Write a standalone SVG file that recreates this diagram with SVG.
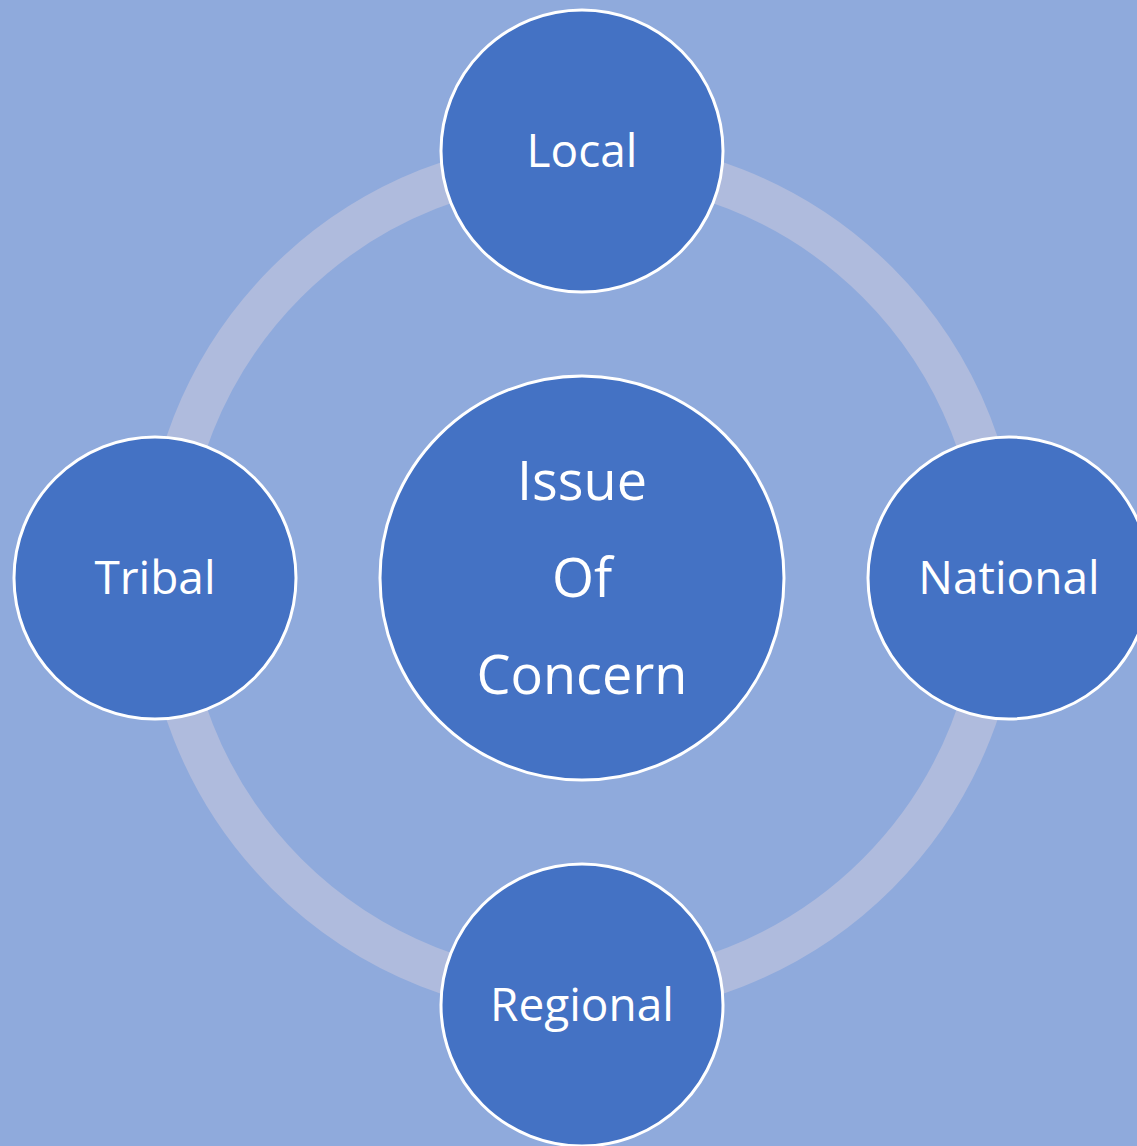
<svg xmlns="http://www.w3.org/2000/svg" width="1137" height="1146" viewBox="0 0 1137 1146">
<style>
.node{fill:#4472C4;stroke:#FFFFFF;stroke-width:3}
.lbl{font-family:"Open Sans","Liberation Sans",sans-serif;fill:#FFFFFF;text-anchor:middle;font-size:46px}
.big{font-size:54px}
</style>
<rect width="1137" height="1146" fill="#8FAADC"/>
<g id="connectors">
<circle cx="582" cy="578" r="418" fill="none" stroke="#AFBBDD" stroke-width="42"/>
</g>
<g id="center">
<circle class="node" cx="582" cy="578" r="202"/>
<text class="lbl big" x="582" y="500">Issue</text>
<text class="lbl big" x="582" y="597">Of</text>
<text class="lbl big" x="582" y="694">Concern</text>
</g>
<g id="local">
<circle class="node" cx="582" cy="151" r="141"/>
<text class="lbl" x="582" y="167">Local</text>
</g>
<g id="tribal">
<circle class="node" cx="155" cy="578" r="141"/>
<text class="lbl" x="155" y="594">Tribal</text>
</g>
<g id="national">
<circle class="node" cx="1009" cy="578" r="141"/>
<text class="lbl" x="1009" y="594">National</text>
</g>
<g id="regional">
<circle class="node" cx="582" cy="1005" r="141"/>
<text class="lbl" x="582" y="1021">Regional</text>
</g>
</svg>
